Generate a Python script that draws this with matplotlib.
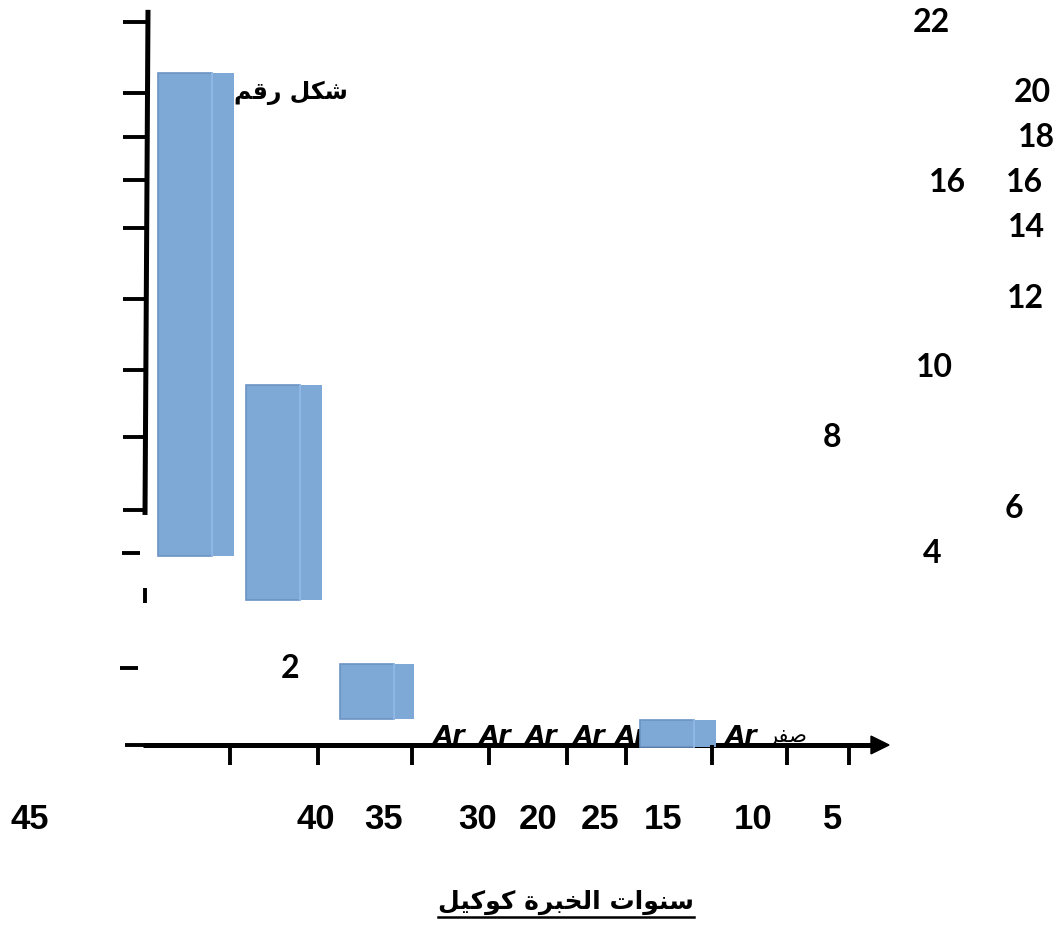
import matplotlib
matplotlib.use("Agg")
import matplotlib.pyplot as plt
from matplotlib.patches import Polygon

# ---------------------------------------------------------------------------
# Arabic contextual shaping: matplotlib does no joining or bidi, so letters
# are mapped to their presentation forms and the string is put in visual order.
# ---------------------------------------------------------------------------
FORMS = {  # isolated, final, initial, medial
    'ا': ('\uFE8D', '\uFE8E', None, None),
    'ب': ('\uFE8F', '\uFE90', '\uFE91', '\uFE92'),
    'ت': ('\uFE95', '\uFE96', '\uFE97', '\uFE98'),
    'ة': ('\uFE93', '\uFE94', None, None),
    'خ': ('\uFEA5', '\uFEA6', '\uFEA7', '\uFEA8'),
    'ر': ('\uFEAD', '\uFEAE', None, None),
    'س': ('\uFEB1', '\uFEB2', '\uFEB3', '\uFEB4'),
    'ش': ('\uFEB5', '\uFEB6', '\uFEB7', '\uFEB8'),
    'ص': ('\uFEB9', '\uFEBA', '\uFEBB', '\uFEBC'),
    'ف': ('\uFED1', '\uFED2', '\uFED3', '\uFED4'),
    'ق': ('\uFED5', '\uFED6', '\uFED7', '\uFED8'),
    'ك': ('\uFED9', '\uFEDA', '\uFEDB', '\uFEDC'),
    'ل': ('\uFEDD', '\uFEDE', '\uFEDF', '\uFEE0'),
    'م': ('\uFEE1', '\uFEE2', '\uFEE3', '\uFEE4'),
    'ن': ('\uFEE5', '\uFEE6', '\uFEE7', '\uFEE8'),
    'و': ('\uFEED', '\uFEEE', None, None),
    'ي': ('\uFEF1', '\uFEF2', '\uFEF3', '\uFEF4'),
}


def shape(text):
    def dual(c):
        return c in FORMS and FORMS[c][2] is not None
    out = []
    for i, c in enumerate(text):
        if c not in FORMS:
            out.append(c)
            continue
        prev = text[i - 1] if i > 0 else None
        nxt = text[i + 1] if i + 1 < len(text) else None
        join_prev = prev is not None and dual(prev)
        join_next = dual(c) and nxt in FORMS
        iso, fin, ini, med = FORMS[c]
        if join_prev and join_next:
            out.append(med)
        elif join_prev:
            out.append(fin)
        elif join_next:
            out.append(ini)
        else:
            out.append(iso)
    return ''.join(reversed(out))


# ---------------------------------------------------------------------------
# Data
# ---------------------------------------------------------------------------
title_text = 'سنوات الخبرة كوكيل'
figure_caption = 'شكل رقم'
zero_label = 'صفر'

# floating bars: left edge, bottom, top
bar_left = [0.65, 5.05, 9.75, 24.75]
bar_bottom = [5.75, 4.4, 0.8, -0.05]
bar_top = [20.45, 10.95, 2.45, 0.75]

# count labels scattered on the right
count_labels = ['22', '20', '18', '16', '16', '14', '12', '10', '8', '6', '4', '2']
count_x = [39.3, 44.35, 44.55, 40.1, 43.95, 44.05, 44.0, 39.45, 34.35, 43.45, 39.35, 7.25]
count_y = [22.0, 19.84, 18.5, 17.13, 17.13, 15.76, 13.6, 11.5, 9.37, 7.21, 5.84, 2.34]

# years labels under the horizontal axis
year_labels = ['45', '40', '35', '30', '20', '25', '15', '10', '5']
year_x = [-5.75, 8.55, 11.95, 16.65, 19.65, 22.75, 25.9, 30.4, 34.4]

# tick marks
left_ticks = [22.0, 19.84, 18.5, 17.19, 15.73, 13.57, 11.41, 9.37, 7.15]
loose_ticks = [5.84, 2.34]
bottom_ticks = [4.25, 8.65, 13.35, 17.2, 21.1, 24.05, 28.35, 32.1, 35.2]
glyph_x = [15.25, 17.5, 19.85, 22.2, 24.3, 27.75, 29.85]

# ---------------------------------------------------------------------------
# Figure
# ---------------------------------------------------------------------------
fig = plt.figure(figsize=(10.6, 9.3), dpi=100)
ax = fig.add_axes([0, 0, 1, 1])
ax.set_xlim(-7.25, 45.75)
ax.set_ylim(-5.63, 22.67)
ax.axis('off')

fill = '#7EA8D6'
edge = '#6B93C4'
sep = '#93BCEB'
main_w = 2.7
strip_w = [1.1, 1.1, 1.0, 1.1]

heights = [t - b for t, b in zip(bar_top, bar_bottom)]
ax.bar(bar_left, heights, width=main_w, bottom=bar_bottom, align='edge',
       color=fill, edgecolor=edge, linewidth=1.2, zorder=4)
strip_left = [l + main_w for l in bar_left]
ax.bar(strip_left, heights, width=strip_w, bottom=bar_bottom, align='edge',
       color=fill, edgecolor='none', linewidth=0, zorder=4)
for sl, b, t in zip(strip_left, bar_bottom, bar_top):
    ax.plot([sl, sl], [b, t], color=sep, lw=1.2, zorder=5)

# vertical axis and its ticks
ax.plot([0.15, 0.0], [22.37, 7.0], color='black', lw=3.6, solid_capstyle='butt', zorder=3)
for yv in left_ticks:
    ax.plot([-1.1, 0.1], [yv, yv], color='black', lw=2.8, solid_capstyle='butt', zorder=3)
for yv, x0 in zip(loose_ticks, [-1.15, -1.25]):
    ax.plot([x0, x0 + 0.9], [yv, yv], color='black', lw=2.8, solid_capstyle='butt', zorder=3)
ax.plot([0.0, 0.0], [4.78, 4.32], color='black', lw=2.8, solid_capstyle='butt', zorder=3)
ax.plot([-1.0, 0.0], [0, 0], color='black', lw=2.8, solid_capstyle='butt', zorder=3)

# horizontal axis with arrow head
ax.plot([-0.1, 36.5], [0, 0], color='black', lw=3.6, solid_capstyle='butt', zorder=3)
ax.add_patch(Polygon([(36.3, 0.27), (37.2, 0.0), (36.3, -0.27)], closed=True,
                     facecolor='black', edgecolor='black', zorder=3))
for xv in bottom_ticks:
    ax.plot([xv, xv], [0, -0.6], color='black', lw=2.8, solid_capstyle='butt', zorder=6)

# stray glyphs sitting on the axis line
for gx in glyph_x:
    ax.text(gx, 0.05, 'Ar', ha='center', va='baseline', fontsize=18,
            family='DejaVu Sans', style='italic', weight='bold', color='black', zorder=3)

# count labels
for lab, xv, yv in zip(count_labels, count_x, count_y):
    ax.text(xv, yv, lab, ha='center', va='center', fontsize=23,
            family='Lato', weight='bold', color='black', zorder=7)

# years labels
for lab, xv in zip(year_labels, year_x):
    ax.text(xv, -2.28, lab, ha='center', va='center', fontsize=25,
            family=['Liberation Sans Narrow', 'Liberation Sans'], weight='bold', color='black')

# Arabic texts
ax.text(7.3, 19.84, shape(figure_caption), ha='center', va='center', fontsize=17,
        family='DejaVu Sans', weight='bold', color='black', zorder=7)
ax.text(32.15, 0.25, shape(zero_label), ha='center', va='center', fontsize=15,
        family='DejaVu Sans', color='black', zorder=7)
title = ax.text(21.05, -4.8, shape(title_text), ha='center', va='center', fontsize=18,
                family='DejaVu Sans', weight='bold', color='black')

# underline under the title
fig.canvas.draw()
bb = title.get_window_extent().transformed(ax.transData.inverted())
ax.plot([bb.x0, bb.x1], [bb.y0 - 0.05, bb.y0 - 0.05], color='black', lw=1.8)

fig.savefig('out.png', dpi=100)
